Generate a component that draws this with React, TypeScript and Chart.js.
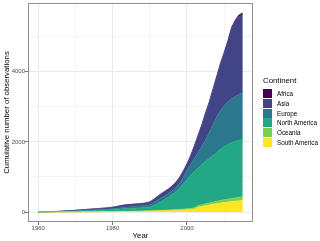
import React, { useEffect, useRef } from 'react';
import { Chart, registerables } from 'chart.js';

Chart.register(...registerables);

const years = [
  1960, 1961, 1962, 1963, 1964, 1965, 1966, 1967, 1968, 1969,
  1970, 1971, 1972, 1973, 1974, 1975, 1976, 1977, 1978, 1979,
  1980, 1981, 1982, 1983, 1984, 1985, 1986, 1987, 1988, 1989,
  1990, 1991, 1992, 1993, 1994, 1995, 1996, 1997, 1998, 1999,
  2000, 2001, 2002, 2003, 2004, 2005, 2006, 2007, 2008, 2009,
  2010, 2011, 2012, 2013, 2014, 2015,
];

const southAmerica = [
  0, 0, 0, 1, 1, 1, 2, 2, 3, 3,
  4, 4, 5, 5, 6, 6, 7, 8, 9, 10,
  11, 12, 13, 14, 15, 16, 18, 20, 22, 25,
  28, 31, 34, 37, 40, 43, 46, 50, 54, 58,
  62, 70, 85, 140, 160, 180, 200, 220, 240, 255,
  270, 285, 300, 310, 325, 335,
];

const oceania = [
  0, 0, 0, 0, 0, 1, 1, 1, 1, 2,
  2, 2, 3, 3, 3, 4, 4, 4, 5, 5,
  5, 6, 6, 7, 7, 8, 8, 9, 9, 10,
  11, 12, 13, 14, 16, 18, 20, 22, 25, 28,
  32, 36, 40, 45, 50, 55, 60, 65, 70, 75,
  80, 85, 90, 95, 100, 105,
];

const northAmerica = [
  0, 2, 4, 5, 7, 8, 10, 13, 15, 17,
  20, 24, 26, 30, 33, 36, 39, 42, 44, 48,
  52, 58, 65, 71, 76, 80, 84, 87, 91, 93,
  101, 147, 193, 249, 304, 359, 434, 508, 601, 714,
  826, 944, 1035, 1075, 1150, 1215, 1270, 1325, 1390, 1460,
  1520, 1560, 1590, 1615, 1625, 1630,
];

const europe = [
  0, 0, 1, 2, 3, 4, 5, 6, 7, 8,
  10, 12, 14, 15, 16, 17, 18, 19, 20, 21,
  24, 28, 34, 42, 48, 50, 52, 54, 58, 62,
  70, 80, 90, 100, 100, 110, 110, 120, 150, 200,
  280, 310, 370, 440, 520, 610, 750, 890, 1020, 1110,
  1170, 1210, 1250, 1280, 1310, 1330,
];

const asia = [
  0, 1, 1, 2, 3, 4, 6, 8, 10, 12,
  14, 18, 19, 22, 25, 28, 31, 34, 37, 41,
  47, 55, 60, 64, 64, 64, 64, 64, 65, 69,
  77, 87, 106, 116, 125, 125, 134, 143, 152, 161,
  170, 248, 356, 484, 602, 760, 847, 994, 1131, 1318,
  1485, 1721, 2007, 2133, 2219, 2225,
];

const africa = [
  0, 0, 0, 0, 0, 0, 0, 0, 0, 0,
  0, 0, 1, 1, 1, 1, 1, 1, 1, 1,
  1, 1, 2, 2, 2, 2, 2, 2, 3, 3,
  3, 3, 4, 4, 5, 5, 6, 7, 8, 9,
  10, 12, 14, 16, 18, 20, 23, 26, 29, 32,
  35, 39, 43, 47, 51, 55,
];

const legendNames = ['Africa', 'Asia', 'Europe', 'North America', 'Oceania', 'South America'];
const legendColors = ['#440154', '#414487', '#2A788E', '#22A884', '#7AD151', '#FDE725'];

// stacking order, bottom to top
const stackNames = ['South America', 'Oceania', 'North America', 'Europe', 'Asia', 'Africa'];
const stackSeries = [southAmerica, oceania, northAmerica, europe, asia, africa];

const xTicks = [1960, 1970, 1980, 1990, 2000, 2010];
const yTicks = [0, 1000, 2000, 3000, 4000, 5000];

const FONT = '"Liberation Sans", Arial, Helvetica, sans-serif';

const panelBorder = {
  id: 'panelBorder',
  afterDraw(chart: any) {
    const { ctx, chartArea: a } = chart;
    ctx.save();
    ctx.strokeStyle = '#8f8f8f';
    ctx.lineWidth = 1;
    const l = Math.round(a.left) + 0.5;
    const t = Math.round(a.top) + 0.5;
    const r = Math.round(a.right) - 0.5;
    const b = Math.round(a.bottom) - 0.5;
    ctx.strokeRect(l, t, r - l, b - t);
    ctx.restore();
  },
};

export default function App() {
  const canvasRef = useRef<HTMLCanvasElement | null>(null);

  useEffect(() => {
    document.body.style.margin = '0';
    const canvas = canvasRef.current;
    if (!canvas) return;
    const colorFor = (name: string) => legendColors[legendNames.indexOf(name)];
    const datasets = stackSeries.map((vals, i) => ({
      label: stackNames[i],
      data: years.map((y, j) => ({ x: y, y: vals[j] })),
      backgroundColor: colorFor(stackNames[i]),
      borderColor: colorFor(stackNames[i]),
      borderWidth: 0.6,
      pointRadius: 0,
      pointHoverRadius: 0,
      tension: 0,
      fill: i === 0 ? 'origin' : '-1',
    }));

    const chart = new Chart(canvas, {
      type: 'line',
      data: { datasets },
      options: {
        animation: false,
        responsive: false,
        events: [],
        layout: { padding: { top: 3, right: 67, left: 0, bottom: 0 } },
        plugins: {
          legend: { display: false },
          tooltip: { enabled: false },
        },
        scales: {
          x: {
            type: 'linear',
            min: 1957.25,
            max: 2017.75,
            afterBuildTicks: (s: any) => {
              s.ticks = xTicks.map((v) => ({ value: v }));
            },
            afterFit: (s: any) => {
              s.height = 19;
            },
            ticks: {
              autoSkip: false,
              maxRotation: 0,
              padding: 0,
              color: '#4D4D4D',
              font: { family: FONT, size: 6, lineHeight: 1 },
              callback: (v: any) => (Number(v) % 20 === 0 ? String(v) : ''),
            },
            grid: {
              color: '#EBEBEB',
              lineWidth: (c: any) => (c.tick && c.tick.value % 20 === 0 ? 1 : 0.5),
              drawTicks: true,
              tickLength: 3,
              tickWidth: 0.8,
              tickColor: (c: any) => (c.tick && c.tick.value % 20 === 0 ? '#555555' : 'rgba(0,0,0,0)'),
            },
            border: { display: false },
            title: {
              display: true,
              text: 'Year',
              color: '#000000',
              font: { family: FONT, size: 7.8, lineHeight: 1.2 },
              padding: { top: 0, bottom: 0.6 },
            },
          },
          y: {
            type: 'linear',
            stacked: true,
            min: -284,
            max: 5964,
            afterBuildTicks: (s: any) => {
              s.ticks = yTicks.map((v) => ({ value: v }));
            },
            afterFit: (s: any) => {
              s.width = 28;
            },
            ticks: {
              autoSkip: false,
              padding: 0,
              color: '#4D4D4D',
              font: { family: FONT, size: 6, lineHeight: 1 },
              callback: (v: any) => (Number(v) % 2000 === 0 ? String(v) : ''),
            },
            grid: {
              color: '#EBEBEB',
              lineWidth: (c: any) => (c.tick && c.tick.value % 2000 === 0 ? 1 : 0.5),
              drawTicks: true,
              tickLength: 3,
              tickWidth: 0.8,
              tickColor: (c: any) => (c.tick && c.tick.value % 2000 === 0 ? '#555555' : 'rgba(0,0,0,0)'),
            },
            border: { display: false },
            title: {
              display: true,
              text: 'Cumulative number of observations',
              color: '#000000',
              font: { family: FONT, size: 7.8, lineHeight: 1.2 },
              padding: { top: 1.8, bottom: 0 },
            },
          },
        },
      },
      plugins: [panelBorder],
    } as any);

    return () => chart.destroy();
  }, []);

  return (
    <div style={{ position: 'fixed', left: 0, top: 0, width: 320, height: 241, background: '#ffffff' }}>
      <canvas ref={canvasRef} width={320} height={241} style={{ position: 'absolute', left: 0, top: 0 }} />
      <div
        style={{
          position: 'absolute',
          left: 263,
          top: 76,
          fontFamily: FONT,
          fontSize: 7.8,
          lineHeight: '9px',
          color: '#000',
          whiteSpace: 'nowrap',
        }}
      >
        Continent
      </div>
      {legendNames.map((name, i) => (
        <div key={name}>
          <div
            style={{
              position: 'absolute',
              left: 263,
              top: 89 + i * 9.83,
              width: 9,
              height: 9,
              background: legendColors[i],
            }}
          />
          <div
            style={{
              position: 'absolute',
              left: 277,
              top: 89 + i * 9.83,
              height: 9,
              lineHeight: '9px',
              fontFamily: FONT,
              fontSize: 6.3,
              color: '#000',
              whiteSpace: 'nowrap',
            }}
          >
            {name}
          </div>
        </div>
      ))}
    </div>
  );
}
